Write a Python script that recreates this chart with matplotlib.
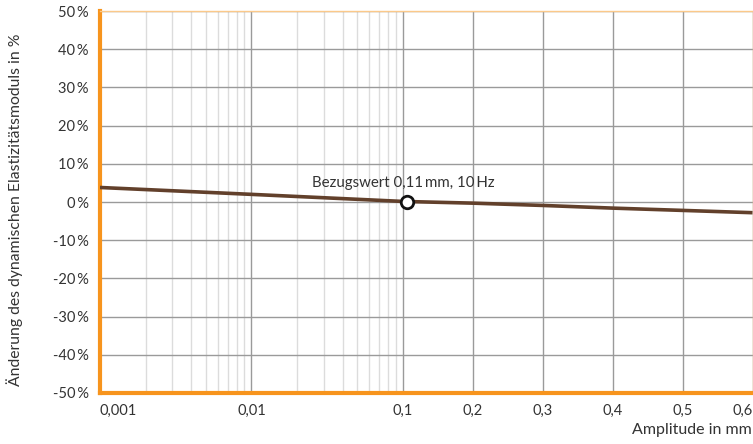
import numpy as np
import matplotlib
matplotlib.use('Agg')
import matplotlib.pyplot as plt

plt.rcParams['font.family'] = ['Lato', 'DejaVu Sans']

# Data
amplitude = [0.001, 0.01, 0.1, 0.2, 0.3, 0.4, 0.5, 0.6]
change = [3.8, 2.0, 0.15, -0.3, -0.9, -1.6, -2.2, -2.8]
ref_amplitude = 0.106
ref_change = 0.0
ref_label = 'Bezugswert 0,11\u2009mm, 10\u2009Hz'

x_ticks = [0.001, 0.01, 0.1, 0.2, 0.3, 0.4, 0.5, 0.6]
x_ticklabels = ['0,001', '0,01', '0,1', '0,2', '0,3', '0,4', '0,5', '0,6']
y_ticks = list(range(-50, 51, 10))
y_ticklabels = ['%d\u2009%%' % v for v in y_ticks]

# log part up to 0.1, linear part after it
lin_k = 0.462 / 0.1

def forward(x):
    x = np.asarray(x, dtype=float)
    logpart = np.log10(np.clip(x, 1e-12, None)) + 3
    linpart = 2 + (x - 0.1) * lin_k
    return np.where(x <= 0.1, logpart, linpart)

def inverse(u):
    u = np.asarray(u, dtype=float)
    return np.where(u <= 2, 10 ** (u - 3), 0.1 + (u - 2) / lin_k)

orange = '#f7941d'
text_col = '#333333'

fig = plt.figure(figsize=(7.53, 4.44), dpi=100)
ax = fig.add_axes([100 / 753, 1 - 393 / 444, 652.5 / 753, 382 / 444])
ax.set_xscale('function', functions=(forward, inverse))
ax.set_xlim(0.001, 0.6)
ax.set_ylim(-50, 50)

minor = [m * d for d in (0.001, 0.01) for m in range(2, 10)]
ax.set_xticks(x_ticks)
ax.set_xticklabels(x_ticklabels)
ax.set_xticks(minor, minor=True)
ax.set_yticks(y_ticks)
ax.set_yticklabels(y_ticklabels)
labels = ax.get_xticklabels()
labels[0].set_ha('left')
labels[-1].set_ha('right')

ax.grid(which='major', color='#9a9a9a', linewidth=1.0)
ax.grid(which='minor', axis='x', color='#dcdcdc', linewidth=1.0)
ax.set_axisbelow(True)
ax.tick_params(which='both', length=0, labelsize=10.5, colors=text_col)
ax.tick_params(axis='x', pad=8)
ax.tick_params(axis='y', pad=8)

for s in ('left', 'bottom'):
    ax.spines[s].set_color(orange)
    ax.spines[s].set_linewidth(3)
for s in ('top', 'right'):
    ax.spines[s].set_color('#fbc98a')
    ax.spines[s].set_linewidth(1)

ax.plot(amplitude, change, color='#62402b', linewidth=2.6, solid_capstyle='butt', zorder=3)
ax.plot([ref_amplitude], [ref_change], marker='o', markersize=9, markerfacecolor='white',
        markeredgecolor='#111111', markeredgewidth=2, zorder=4)
ax.annotate(ref_label, (ref_amplitude, ref_change), xytext=(-3, 9), textcoords='offset points',
            ha='center', va='bottom', fontsize=10.8, color=text_col)

fig.text(15 / 753, 1 - 210 / 444, 'Änderung des dynamischen Elastizitätsmoduls in %', rotation=90,
         ha='center', va='center', fontsize=11.3, color=text_col)
fig.text(752 / 753, 1 - 430 / 444, 'Amplitude in mm', ha='right', va='center',
         fontsize=11.5, color=text_col)

fig.savefig('out.png', dpi=100)
